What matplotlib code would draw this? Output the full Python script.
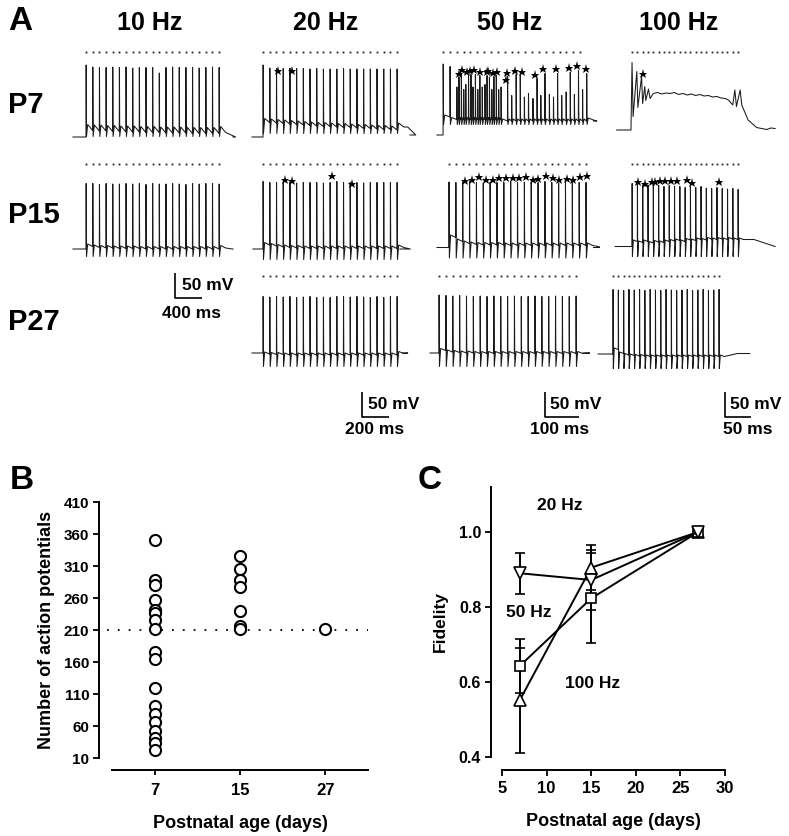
import numpy as np
import matplotlib
matplotlib.use('Agg')  # noqa
import matplotlib.pyplot as plt

W, H = 789, 836

plt.rcParams['font.family'] = ['Liberation Sans', 'DejaVu Sans']
plt.rcParams['font.weight'] = 'bold'
plt.rcParams['axes.labelweight'] = 'bold'

# ---------------- panel A data (ms / mV) ----------------
FREQ_LABELS = ['10 Hz', '20 Hz', '50 Hz', '100 Hz']
PERIOD_MS = [100, 50, 20, 10]
AGE_LABELS = ['P7', 'P15', 'P27']
N_STIM = 21

P7_10_PEAK = [79, 75, 74, 74, 75, 74, 75, 73, 74, 74, 74, 63, 74, 75, 74, 74, 74, 73, 74, 75, 74]
P7_10_PLAT = [-65, -52, -53, -53, -54, -54, -55, -55, -55, -56, -56, -56, -57, -57, -57, -57, -58, -58, -58, -58, -58]

P7_20_PEAK = [79, 73, 72, 72, 73, 72, 72, 71, 72, 71, 71, 71, 72, 71, 71, 71, 71, 71, 71, 71, 71]
P7_20_PLAT = [-65, -36, -37, -38, -39, -40, -41, -42, -43, -44, -44, -45, -46, -46, -47, -48, -48, -49, -50, -50, -51]
P7_20_STAR_MS = [209, 313]
P7_20_STAR_MV = [67, 67]

P7_50_EVENT_MS = [44, 64,
                  84, 90, 97, 104, 110, 118, 125, 131, 138, 145, 151, 158, 166, 172, 179, 186, 192, 199, 206, 213,
                  232, 244, 257, 269, 281, 293, 306, 318, 329, 341, 354, 366, 378, 390, 403, 415, 427, 439, 451, 463]
P7_50_PEAK = [81, 76,
              35, 55, 62, 30, 40, 58, 60, 35, 60, 30, 58, 35, 40, 58, 55, 30, 56, 58, 30, 35,
              56, 18, 60, 58, 15, 22, 12, 52, 18, 62, 20, 15, 62, 18, 25, 65, 20, 68, 30, 62]
P7_50_PLAT = [-61, -25] + [-30] * 20 + [-33] * 20
P7_50_STAR_MS = [91, 98, 114, 123, 133, 152, 172, 176, 191, 200, 232, 228, 254, 274, 313, 337, 373, 413, 436, 460]
P7_50_STAR_MV = [62, 70, 66, 68, 69, 66, 66, 68, 64, 66, 64, 50, 68, 66, 60, 72, 71, 74, 77, 71]

P7_100_T = [39, 66, 68, 70, 77, 79, 86, 88, 92, 94, 99, 102,
            108, 116, 124, 132, 140, 148, 156, 164, 172, 180, 188, 196, 204, 212, 220, 228, 236, 244,
            250, 258, 262, 265, 272, 275, 287, 303, 322, 330, 338]
P7_100_V = [-51, -51, 84, -24, 66, -6, 56, 2, 36, 8, 31, 12,
            22, 24, 21, 23, 22, 24, 20, 22, 19, 21, 18, 20, 17, 18, 15, 16, 13, 12,
            9, -1, 29, -4, 29, -1, -31, -46, -50, -47, -48]
P7_100_STAR_MS = [88]
P7_100_STAR_MV = [62]

P15_10_PEAK = [66, 66, 64, 66, 65, 65, 66, 65, 66, 64, 66, 65, 65, 66, 65, 64, 66, 65, 66, 66, 65]
P15_10_PLAT = [-65, -60, -62, -63, -63, -64, -64, -64, -64, -65, -65, -65, -65, -65, -65, -65, -65, -65, -65, -65, -65]

P15_20_PEAK = [70, 68, 68, 68, 68, 67, 68, 68, 68, 67, 68, 70, 68, 68, 68, 67, 68, 68, 68, 68, 68]
P15_20_PLAT = [-65, -57, -59, -61, -62, -63, -63, -64, -64, -64, -64, -64, -64, -64, -64, -64, -64, -64, -64, -64, -64]
P15_20_STAR_MS = [261, 311, 610, 763]
P15_20_STAR_MV = [73, 72, 82, 66]

P15_50_PEAK = [69, 68, 68, 70, 68, 67, 69, 68, 68, 70, 68, 69, 67, 68, 70, 68, 67, 69, 68, 68, 68]
P15_50_PLAT = [-62, -42, -50, -54, -56, -57, -57, -57, -57, -58, -58, -58, -58, -58, -58, -58, -58, -58, -58, -58, -58]
P15_50_STAR_MS = [108, 128, 149, 168, 191, 207, 228, 247, 267, 286, 306, 322, 345, 364, 383, 405, 424, 444, 463]
P15_50_STAR_MV = [72, 74, 80, 74, 74, 78, 77, 77, 77, 80, 74, 76, 81, 77, 74, 76, 74, 80, 81]

P15_100_PEAK = [66, 64, 62, 63, 62, 62, 60, 62, 60, 60, 58, 60, 58, 60, 57, 56, 58, 56, 55, 56, 54]
P15_100_PLAT = [-60, -50, -52, -50, -53, -51, -52, -50, -49, -48, -50, -47, -48, -46, -47, -45, -46, -45, -46, -45, -46]
P15_100_STAR_MS = [80, 92, 105, 111, 121, 130, 141, 153, 171, 182, 232]
P15_100_STAR_MV = [70, 66, 70, 70, 72, 72, 72, 72, 74, 68, 70]

P27_20_PEAK = [48, 47, 48, 47, 48, 46, 47, 48, 46, 47, 46, 48, 48, 47, 48, 47, 46, 48, 46, 48, 48]
P27_20_PLAT = [-65, -67, -68, -68, -69, -69, -69, -69, -69, -69, -69, -69, -69, -69, -69, -69, -69, -69, -69, -69, -69]

P27_50_PEAK = [51, 50, 49, 50, 49, 48, 49, 48, 49, 48, 48, 49, 48, 48, 49, 48, 48, 49, 48, 48, 49]
P27_50_PLAT = [-65, -60, -63, -64, -65, -65, -66, -66, -66, -66, -66, -66, -66, -66, -66, -66, -66, -66, -66, -66, -66]

P27_100_PEAK = [62, 61, 60, 62, 61, 62, 60, 62, 61, 60, 62, 61, 60, 61, 62, 60, 61, 62, 60, 61, 62]
P27_100_PLAT = [-67, -58, -66, -69, -70, -71, -71, -72, -72, -72, -72, -72, -72, -72, -72, -72, -72, -72, -72, -72, -72]

# ---------------- panel B data ----------------
B_AGES = ['7', '15', '27']
B_P7 = [350, 288, 280, 257, 242, 236, 226, 212, 176, 165, 120, 91, 78, 67, 52, 42, 33, 22]
B_P15 = [325, 305, 288, 277, 240, 216, 212]
B_P27 = [212]
B_REF = 210

# ---------------- panel C data ----------------
C_AGE = [7, 15, 27]
FID_20 = [0.89, 0.872, 1.0]
ERR_20 = [0.055, 0.08, 0.0]
FID_50 = [0.643, 0.823, 1.0]
ERR_50 = [0.072, 0.12, 0.0]
FID_100 = [0.552, 0.905, 1.0]
ERR_100 = [0.14, 0.06, 0.0]


def px_axes(fig, x0, y0, x1, y1):
    return fig.add_axes([x0 / W, 1 - y1 / H, (x1 - x0) / W, (y1 - y0) / H])


def train(stim, peak, plat, trough, adp, start, end, rest, post, settle,
          period, hold=0.0, rest_end=None):
    if rest_end is None:
        rest_end = rest
    n = len(stim)
    a, b, c = 0.02 * period, 0.07 * period, 0.25 * period
    t = [start, stim[0]]
    v = [rest, plat[0]]
    for k in range(n):
        nxt = plat[k + 1] if k + 1 < n else post
        t += [stim[k] + a, stim[k] + b, stim[k] + c]
        v += [peak[k], trough, nxt + adp]
        tn = stim[k + 1] if k + 1 < n else stim[k] + period
        t.append(tn)
        v.append(nxt)
    last = stim[-1] + period
    t += [last + hold, last + hold + settle, end]
    v += [post, rest_end, rest_end]
    return t, v


fig = plt.figure(figsize=(W / 100, H / 100), dpi=100)

COL_X = [(70, 238), (250, 418), (428, 600), (596, 780)]
MS_PER_PX = [1 / 0.0665, 1 / 0.134, 1 / 0.3425, 1 / 0.53]
ROW_TOP = [44.5, 156.5, 260.5]
ROW_H = 110
V_LIM = (-100, 120)
DOT_MV = [105, 105, 89]

axA = {}
for r in range(3):
    for c in range(4):
        x0, x1 = COL_X[c]
        ax = px_axes(fig, x0, ROW_TOP[r], x1, ROW_TOP[r] + ROW_H)
        ax.set_xlim(0, (x1 - x0) * MS_PER_PX[c])
        ax.set_ylim(*V_LIM)
        ax.axis('off')
        axA[(r, c)] = ax

TR = dict(color='#1a1a1a', lw=0.75)


def stim_times(first, c):
    return [first + k * PERIOD_MS[c] for k in range(N_STIM)]


def dots(ax, times, r):
    ax.plot(times, [DOT_MV[r]] * len(times), 's', ms=1.3, color='#222', mew=0)


def stars(ax, ms, mv):
    ax.plot(ms, mv, '*', ms=6.5, color='k', mew=0)


# P7 row
s = stim_times(241, 0)
ax = axA[(0, 0)]
ax.plot(*train(s, P7_10_PEAK, P7_10_PLAT, -64, 12, 45, 2451, -65, -56, 150, 100), **TR)
dots(ax, s, 0)

s = stim_times(97, 1)
ax = axA[(0, 1)]
ax.plot(*train(s, P7_20_PEAK, P7_20_PLAT, -58, 8, 15, 1194, -65, -45, 60, 50,
               hold=30, rest_end=-61), **TR)
dots(ax, s, 0)
stars(ax, P7_20_STAR_MS, P7_20_STAR_MV)

s = stim_times(44, 2)
ax = axA[(0, 2)]
ax.plot(*train(P7_50_EVENT_MS, P7_50_PEAK, P7_50_PLAT, -40, 4, 26, 483, -61, -31, 10, 20,
               rest_end=-33), **TR)
dots(ax, s, 0)
stars(ax, P7_50_STAR_MS, P7_50_STAR_MV)

s = stim_times(68, 3)
ax = axA[(0, 3)]
ax.plot(P7_100_T, P7_100_V, **TR)
dots(ax, s, 0)
stars(ax, P7_100_STAR_MS, P7_100_STAR_MV)

# P15 row
s = stim_times(241, 0)
ax = axA[(1, 0)]
ax.plot(*train(s, P15_10_PEAK, P15_10_PLAT, -80, 5, 45, 2451, -65, -63, 100, 100), **TR)
dots(ax, s, 1)

s = stim_times(97, 1)
ax = axA[(1, 1)]
ax.plot(*train(s, P15_20_PEAK, P15_20_PLAT, -86, 5, 22, 1119, -65, -62, 50, 50), **TR)
dots(ax, s, 1)
stars(ax, P15_20_STAR_MS, P15_20_STAR_MV)

s = stim_times(61, 2)
ax = axA[(1, 2)]
ax.plot(*train(s, P15_50_PEAK, P15_50_PLAT, -83, 5, 26, 483, -62, -58, 30, 20), **TR)
dots(ax, s, 1)
stars(ax, P15_50_STAR_MS, P15_50_STAR_MV)

s = stim_times(68, 3)
ax = axA[(1, 3)]
ax.plot(*train(s, P15_100_PEAK, P15_100_PLAT, -80, 3, 36, 338, -60, -46, 40, 10, hold=20), **TR)
dots(ax, s, 1)
stars(ax, P15_100_STAR_MS, P15_100_STAR_MV)

# P27 row
s = stim_times(97, 1)
ax = axA[(2, 1)]
ax.plot(*train(s, P27_20_PEAK, P27_20_PLAT, -92, 4, 15, 1142, -65, -66, 30, 50), **TR)
dots(ax, s, 2)

s = stim_times(32, 2)
ax = axA[(2, 2)]
ax.plot(*train(s, P27_50_PEAK, P27_50_PLAT, -92, 4, 6, 453, -65, -66, 20, 20), **TR)
dots(ax, s, 2)

s = stim_times(32, 3)
ax = axA[(2, 3)]
ax.plot(*train(s, P27_100_PEAK, P27_100_PLAT, -96, 3, 4, 290, -67, -72, 25, 10,
               rest_end=-66), **TR)
dots(ax, s, 2)


# scale bars (50 mV vertical, time horizontal) in data units of each column
def scalebar(ax, x, y, t_len, t_label, mv_dx, t_cx, t_y):
    ax.plot([x, x, x + t_len], [y + 50, y, y], color='k', lw=1.2, clip_on=False,
            solid_capstyle='butt')
    ax.text(x + mv_dx, y + 25, '50 mV', fontsize=12.5, va='center', ha='left')
    ax.text(t_cx, t_y, t_label, fontsize=12.5, va='center', ha='center')


scalebar(axA[(2, 0)], 1579, 45, 400, '400 ms', 105, 1820, 15)
scalebar(axA[(2, 1)], 836, -193, 200, '200 ms', 45, 933, -219)
scalebar(axA[(2, 2)], 342, -193, 100, '100 ms', 14, 385, -219)
scalebar(axA[(2, 3)], 243, -193, 50, '50 ms', 10, 287, -219)

# panel A text
fig.text(8 / W, 1 - 6 / H, 'A', fontsize=24, va='top', ha='left')
for c, lab in enumerate(FREQ_LABELS):
    cx = [150, 326, 510, 679][c]
    fig.text(cx / W, 1 - 23 / H, lab, fontsize=18, ha='center', va='center')
for r, lab in enumerate(AGE_LABELS):
    cy = [105, 215, 322][r]
    fig.text(8 / W, 1 - cy / H, lab, fontsize=21, ha='left', va='center')

# ---------------- panel B ----------------
axB = px_axes(fig, 112, 502, 368, 758)
for i, vals in enumerate([B_P7, B_P15, B_P27]):
    axB.plot([i + 1] * len(vals), vals, 'o', ms=8, mfc='white', mec='k', mew=1.5)
axB.axhline(B_REF, color='k', lw=1.3, ls=(0, (1, 5)), zorder=0, xmin=-0.02, clip_on=False)
axB.set_xlim(0.5, 3.5)
axB.set_ylim(10, 410)
axB.set_yticks(np.arange(10, 411, 50))
axB.set_xticks([1, 2, 3])
axB.set_xticklabels(B_AGES)
axB.spines['top'].set_visible(False)
axB.spines['right'].set_visible(False)
axB.spines['left'].set_position(('outward', 9.4))
axB.spines['bottom'].set_position(('outward', 8.6))
for sp in ['left', 'bottom']:
    axB.spines[sp].set_linewidth(1.4)
axB.tick_params(axis='y', labelsize=11, length=4, width=1.3, pad=3)
axB.tick_params(axis='x', labelsize=12, length=3.5, width=1.3, pad=6)
axB.set_ylabel('Number of action potentials', fontsize=13, labelpad=6)
axB.set_xlabel('Postnatal age (days)', fontsize=13, labelpad=12)
fig.text(10 / W, 1 - 465 / H, 'B', fontsize=24, va='top', ha='left')

# ---------------- panel C ----------------
axC = px_axes(fig, 502, 487, 725, 757)
EB = dict(color='k', lw=1.4, capsize=3.6, capthick=1.4, mfc='white', mec='k', mew=1.2)
axC.errorbar(C_AGE, FID_100, yerr=ERR_100, marker='^', ms=8, **EB)
axC.errorbar(C_AGE, FID_50, yerr=ERR_50, marker='s', ms=7, **EB)
axC.errorbar(C_AGE, FID_20, yerr=ERR_20, marker='v', ms=8, **EB)
axC.text(11.5, 1.07, '20 Hz', fontsize=12.5, ha='center', va='center')
axC.text(8.0, 0.785, '50 Hz', fontsize=12.5, ha='center', va='center')
axC.text(15.1, 0.595, '100 Hz', fontsize=12.5, ha='center', va='center')
axC.set_xlim(5, 30)
axC.set_ylim(0.4, 1.12)
axC.set_xticks(np.arange(5, 31, 5))
axC.set_yticks([0.4, 0.6, 0.8, 1.0])
axC.set_yticklabels(['0.4', '0.6', '0.8', '1.0'])
axC.spines['top'].set_visible(False)
axC.spines['right'].set_visible(False)
axC.spines['left'].set_position(('outward', 8))
axC.spines['bottom'].set_position(('outward', 9.4))
for sp in ['left', 'bottom']:
    axC.spines[sp].set_linewidth(1.4)
axC.tick_params(axis='y', labelsize=11.5, length=4, width=1.3, pad=3)
axC.tick_params(axis='x', labelsize=12, length=4, width=1.3, pad=4)
axC.set_ylabel('Fidelity', fontsize=12.5, labelpad=8)
axC.set_xlabel('Postnatal age (days)', fontsize=13, labelpad=12)
fig.text(418 / W, 1 - 465 / H, 'C', fontsize=24, va='top', ha='left')

fig.savefig('out.png', dpi=100)
